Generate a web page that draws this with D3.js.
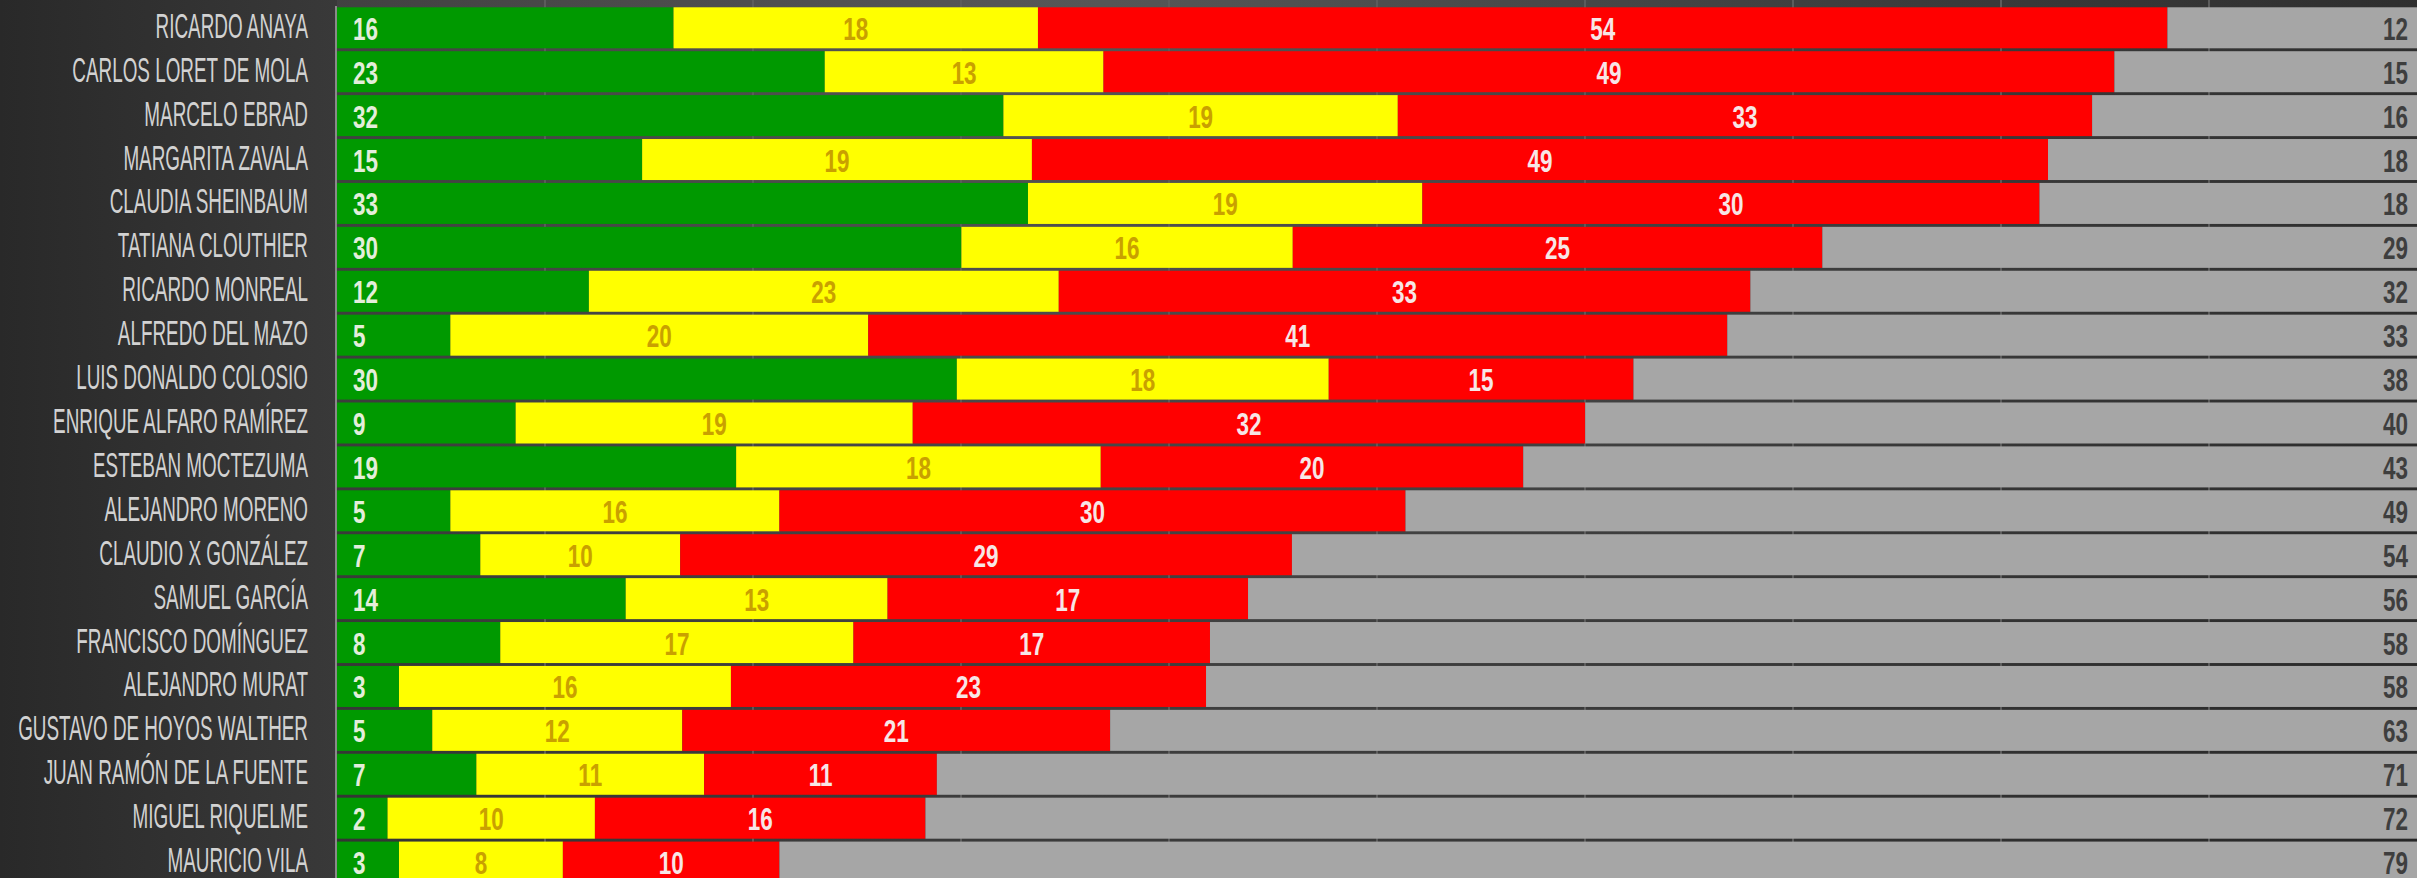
<!DOCTYPE html>
<html><head><meta charset="utf-8">
<script src="https://cdn.jsdelivr.net/npm/d3@7"></script>
<style>html,body{margin:0;padding:0;background:#2e2e2e;overflow:hidden}svg{display:block}</style>
</head><body><svg id="chart"></svg>
<script>
const names = ["RICARDO ANAYA","CARLOS LORET DE MOLA","MARCELO EBRAD","MARGARITA ZAVALA","CLAUDIA SHEINBAUM","TATIANA CLOUTHIER","RICARDO MONREAL","ALFREDO DEL MAZO","LUIS DONALDO COLOSIO","ENRIQUE ALFARO RAMÍREZ","ESTEBAN MOCTEZUMA","ALEJANDRO MORENO","CLAUDIO X GONZÁLEZ","SAMUEL GARCÍA","FRANCISCO DOMÍNGUEZ","ALEJANDRO MURAT","GUSTAVO DE HOYOS WALTHER","JUAN RAMÓN DE LA FUENTE","MIGUEL RIQUELME","MAURICIO VILA"];
const green  = [16.18,23.45,32.04,14.67,33.22,30.02,12.11,5.45,29.80,8.59,19.19,5.45,6.89,13.88,7.85,2.98,4.58,6.70,2.43,2.98];
const yellow = [17.52,13.40,18.96,18.74,18.96,15.93,22.59,20.09,17.88,19.09,17.53,15.82,9.61,12.59,16.98,15.96,12.02,10.95,9.97,7.88];
const red    = [54.30,48.60,33.38,48.85,29.67,25.46,33.25,41.30,14.65,32.33,20.31,30.10,29.41,17.33,17.14,22.84,20.57,11.19,15.89,10.41];
const gray   = [12.00,14.55,15.62,17.74,18.15,28.59,32.05,33.16,37.67,39.99,42.97,48.63,54.09,56.20,58.03,58.22,62.83,71.16,71.71,78.73];
const keys = ["green","yellow","red","gray"];
const colors = {green:"#009900", yellow:"#ffff00", red:"#ff0000", gray:"#a6a6a6"};
const labelColors = {green:"#e4eedb", yellow:"#c9a000", red:"#f7e6e6", gray:"#3e3e3e"};

const W = 2417, H = 878;
const svg = d3.select("#chart").attr("width", W).attr("height", H);
const defs = svg.append("defs");
const rg = defs.append("radialGradient").attr("id","bg").attr("gradientUnits","userSpaceOnUse")
  .attr("cx",1050).attr("cy",-100).attr("r",1750);
rg.append("stop").attr("offset",0).attr("stop-color","#5a5a5a");
rg.append("stop").attr("offset",0.5).attr("stop-color","#3c3c3c");
rg.append("stop").attr("offset",1).attr("stop-color","#242424");
const lg = defs.append("linearGradient").attr("id","panel").attr("x1",0).attr("x2",1).attr("y1",0).attr("y2",0);
lg.append("stop").attr("offset",0).attr("stop-color","#292929");
lg.append("stop").attr("offset",1).attr("stop-color","#393939");

const x = d3.scaleLinear().domain([0,100]).range([337, W]);
const step = 43.91;
const y = d3.scaleBand().domain(names).range([5.845, 5.845 + 20*step]).paddingInner(0.066).paddingOuter(0.033);

svg.append("rect").attr("width", W).attr("height", H).attr("fill","url(#bg)");
svg.append("rect").attr("width", x(0)).attr("height", H).attr("fill","url(#panel)");

// gridlines
svg.append("g").selectAll("line").data(x.ticks(10).filter(t => t > 0 && t < 100)).join("line")
  .attr("x1", d => x(d)).attr("x2", d => x(d)).attr("y1", 0).attr("y2", H)
  .attr("stroke","#5c5c5c").attr("stroke-width",2);

const rows = names.map((n,i) => ({name:n, green:green[i], yellow:yellow[i], red:red[i], gray:gray[i]}));
const series = d3.stack().keys(keys)(rows);

const gBars = svg.append("g");
series.forEach(s => {
  gBars.append("g").attr("fill", colors[s.key]).selectAll("rect").data(s).join("rect")
    .attr("x", d => x(d[0]))
    .attr("width", d => Math.max(0, Math.min(x(d[1]), W) - x(d[0])))
    .attr("y", d => y(d.data.name))
    .attr("height", y.bandwidth());
});

// axis line
svg.append("line").attr("x1", x(0)-1).attr("x2", x(0)-1).attr("y1", 6).attr("y2", H)
  .attr("stroke","#8a8a8a").attr("stroke-width",2);

const FONT = "'Liberation Sans Narrow','Liberation Sans','DejaVu Sans Condensed',sans-serif";

// measure helper
function measure(txt, size, weight) {
  const t = svg.append("text").attr("font-family", FONT).attr("font-size", size).attr("font-weight", weight).text(txt);
  const w = t.node().getComputedTextLength();
  t.remove();
  return w;
}
const nameSize = 36, numSize = 31;
const sxName = 255 / measure("ENRIQUE ALFARO RAMÍREZ", nameSize, 400);
const sxNum = 25 / measure("54", numSize, 700);

// name labels
svg.append("g").selectAll("text").data(names).join("text")
  .attr("transform", d => `translate(${x(0)-29},${y(d) + y.bandwidth()/2 + 10}) scale(${sxName},1)`)
  .attr("text-anchor","end")
  .attr("font-family", FONT).attr("font-size", nameSize)
  .attr("fill","#d2d2d2")
  .text(d => d);

// value labels
const fmt = v => String(Math.round(v));
series.forEach(s => {
  const k = s.key;
  svg.append("g").selectAll("text").data(s).join("text")
    .attr("transform", d => {
      let px;
      if (k === "green") px = x(0) + 16;
      else if (k === "gray") px = W - 9;
      else px = (x(d[0]) + x(d[1])) / 2;
      return `translate(${px},${y(d.data.name) + y.bandwidth()/2 + 12}) scale(${sxNum},1)`;
    })
    .attr("text-anchor", k === "green" ? "start" : (k === "gray" ? "end" : "middle"))
    .attr("font-family", FONT).attr("font-size", numSize).attr("font-weight", 700)
    .attr("fill", labelColors[k])
    .text(d => fmt(d.data[k]));
});
</script></body></html>
